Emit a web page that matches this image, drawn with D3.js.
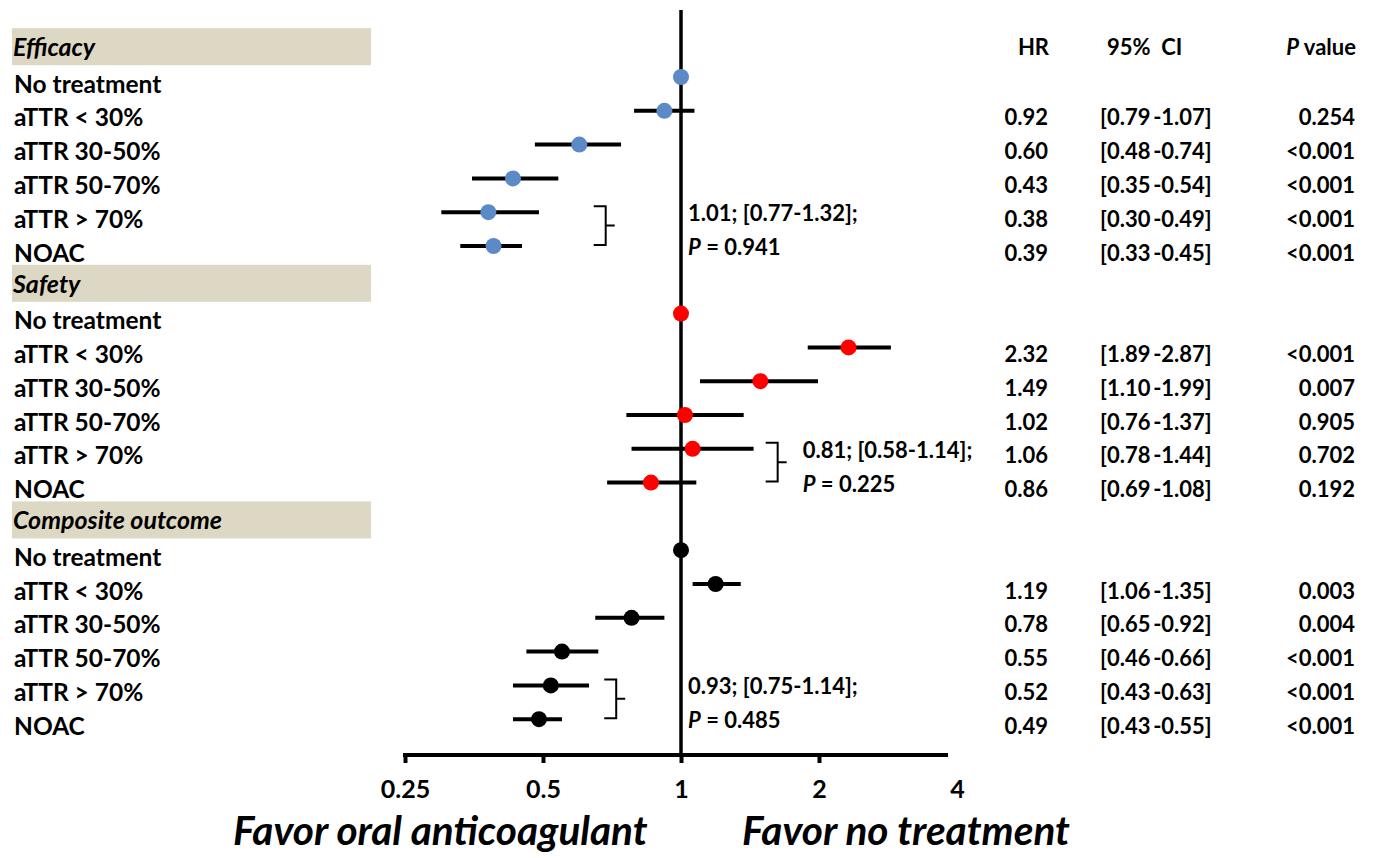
<!doctype html>
<html lang="en">
<head>
  <meta charset="utf-8">
  <title>Forest plot</title>
  <script src="https://d3js.org/d3.v7.min.js"></script>
  <style>
    body { margin: 0; background: #fff; }
    svg text { font-family: Lato, "Open Sans", sans-serif; font-weight: bold; fill: #000; }
  </style>
</head>
<body>
  <div id="chart"></div>
  <script>
    // Data ------------------------------------------------------------------
    const groups = ["Efficacy", "Safety", "Composite outcome"];
    const rowLabels = ["No treatment", "aTTR < 30%", "aTTR 30-50%", "aTTR 50-70%", "aTTR > 70%", "NOAC"];
    const groupColors = ["#5b8ac6", "#ff0000", "#000000"];

    const hr = [
      [1, 0.92, 0.60, 0.43, 0.38, 0.39],
      [1, 2.32, 1.49, 1.02, 1.06, 0.86],
      [1, 1.19, 0.78, 0.55, 0.52, 0.49]
    ];
    const ciLow = [
      [null, 0.79, 0.48, 0.35, 0.30, 0.33],
      [null, 1.89, 1.10, 0.76, 0.78, 0.69],
      [null, 1.06, 0.65, 0.46, 0.43, 0.43]
    ];
    const ciHigh = [
      [null, 1.07, 0.74, 0.54, 0.49, 0.45],
      [null, 2.87, 1.99, 1.37, 1.44, 1.08],
      [null, 1.35, 0.92, 0.66, 0.63, 0.55]
    ];
    const pValues = [
      [null, "0.254", "<0.001", "<0.001", "<0.001", "<0.001"],
      [null, "<0.001", "0.007", "0.905", "0.702", "0.192"],
      [null, "0.003", "0.004", "<0.001", "<0.001", "<0.001"]
    ];

    // aTTR > 70% vs NOAC comparison
    const compText = ["1.01; [0.77-1.32];", "0.81; [0.58-1.14];", "0.93; [0.75-1.14];"];
    const compP = ["0.941", "0.225", "0.485"];

    const axisTicks = [0.25, 0.5, 1, 2, 4];
    const directionLabels = ["Favor oral anticoagulant", "Favor no treatment"];

    // Layout ----------------------------------------------------------------
    const width = 1374;
    const height = 858;
    const axisY = 755;
    const bracketHR = [0.645, 1.53, 0.68]; // where each bracket sits on the HR scale

    const svg = d3.select("#chart").append("svg")
      .attr("width", width)
      .attr("height", height);

    const x = d3.scaleLog().base(2).domain([0.25, 4]).range([405, 957]);
    const y = d3.scaleLinear().domain([0, 20]).range([43.2, 43.2 + 33.8 * 20]);

    const fmt2 = d3.format(".2f");

    // Reference line at HR = 1
    svg.append("line")
      .attr("x1", x(1)).attr("x2", x(1))
      .attr("y1", 10).attr("y2", axisY)
      .attr("stroke", "#000").attr("stroke-width", 3.5);

    // Column headers
    const headY = y(0) + 12;
    svg.append("text").attr("x", 1049).attr("y", headY).attr("text-anchor", "end")
      .style("font-size", "22px").text("HR");
    svg.append("text").attr("x", 1107).attr("y", headY)
      .style("font-size", "22px").attr("xml:space", "preserve").text("95%  CI");
    const ph = svg.append("text").attr("x", 1356).attr("y", headY).attr("text-anchor", "end")
      .style("font-size", "22px");
    ph.append("tspan").style("font-style", "italic").text("P");
    ph.append("tspan").text(" value");

    groups.forEach((g, gi) => {
      const base = gi * 7;

      // Group header band
      svg.append("rect")
        .attr("x", 12).attr("y", y(base) - 15)
        .attr("width", 359).attr("height", 37)
        .attr("fill", "#ddd8c3");
      svg.append("text")
        .attr("x", 13).attr("y", y(base) + 13)
        .style("font-size", "25px").style("font-style", "italic")
        .text(g);

      rowLabels.forEach((lab, ri) => {
        const yy = y(base + 1 + ri);
        svg.append("text")
          .attr("x", 14).attr("y", yy + 15.5)
          .style("font-size", "24.5px")
          .text(lab);

        if (ciLow[gi][ri] !== null) {
          svg.append("line")
            .attr("x1", x(ciLow[gi][ri])).attr("x2", x(ciHigh[gi][ri]))
            .attr("y1", yy).attr("y2", yy)
            .attr("stroke", "#000").attr("stroke-width", 4);

          svg.append("text").attr("x", 1048).attr("y", yy + 14.5)
            .attr("text-anchor", "end").style("font-size", "22px")
            .text(fmt2(hr[gi][ri]));
          svg.append("text").attr("x", 1100).attr("y", yy + 14.5)
            .style("font-size", "22px")
            .text("[" + fmt2(ciLow[gi][ri]) + "\u2009-" + fmt2(ciHigh[gi][ri]) + "]");
          svg.append("text").attr("x", 1355).attr("y", yy + 14.5)
            .attr("text-anchor", "end").style("font-size", "22px")
            .text(pValues[gi][ri]);
        }

        svg.append("circle")
          .attr("cx", x(hr[gi][ri])).attr("cy", yy)
          .attr("r", 8)
          .attr("fill", groupColors[gi]);
      });

      // Bracket joining aTTR > 70% and NOAC
      const yTop = y(base + 5) - 6;
      const yBot = y(base + 6) - 1;
      const bx = x(bracketHR[gi]);
      const bw = 12;
      svg.append("path")
        .attr("d", `M${bx},${yTop}H${bx + bw}V${yBot}H${bx}M${bx + bw},${(yTop + yBot) / 2}h9`)
        .attr("fill", "none").attr("stroke", "#000").attr("stroke-width", 2);

      const tx = Math.max(x(1) + 7, bx + bw + 25);
      svg.append("text").attr("x", tx).attr("y", y(base + 5) + 9)
        .style("font-size", "22px").text(compText[gi]);
      const pt = svg.append("text").attr("x", tx).attr("y", y(base + 6) + 9)
        .style("font-size", "22px");
      pt.append("tspan").style("font-style", "italic").text("P");
      pt.append("tspan").text(" = " + compP[gi]);
    });

    // X axis --------------------------------------------------------------
    const axisG = svg.append("g")
      .attr("transform", `translate(0,${axisY})`)
      .call(d3.axisBottom(x)
        .tickValues(axisTicks)
        .tickFormat(d => String(d))
        .tickSize(8)
        .tickPadding(17));

    axisG.select(".domain").remove();
    axisG.append("line")
      .attr("x1", x(0.25) - 2).attr("x2", x(4) - 9)
      .attr("stroke", "#000").attr("stroke-width", 4);
    axisG.selectAll(".tick line")
      .attr("stroke", "#000").attr("stroke-width", 4)
      .filter(d => d === 4).remove();
    axisG.selectAll(".tick text")
      .style("font-size", "25px").style("font-family", "Lato, sans-serif")
      .style("font-weight", "bold").attr("fill", "#000");

    // Direction labels
    svg.selectAll(".direction")
      .data(directionLabels)
      .join("text")
      .attr("class", "direction")
      .attr("x", (d, i) => i === 0 ? 233 : 742)
      .attr("y", 845)
      .style("font-size", "40.5px").style("font-style", "italic")
      .text(d => d);
  </script>
</body>
</html>
